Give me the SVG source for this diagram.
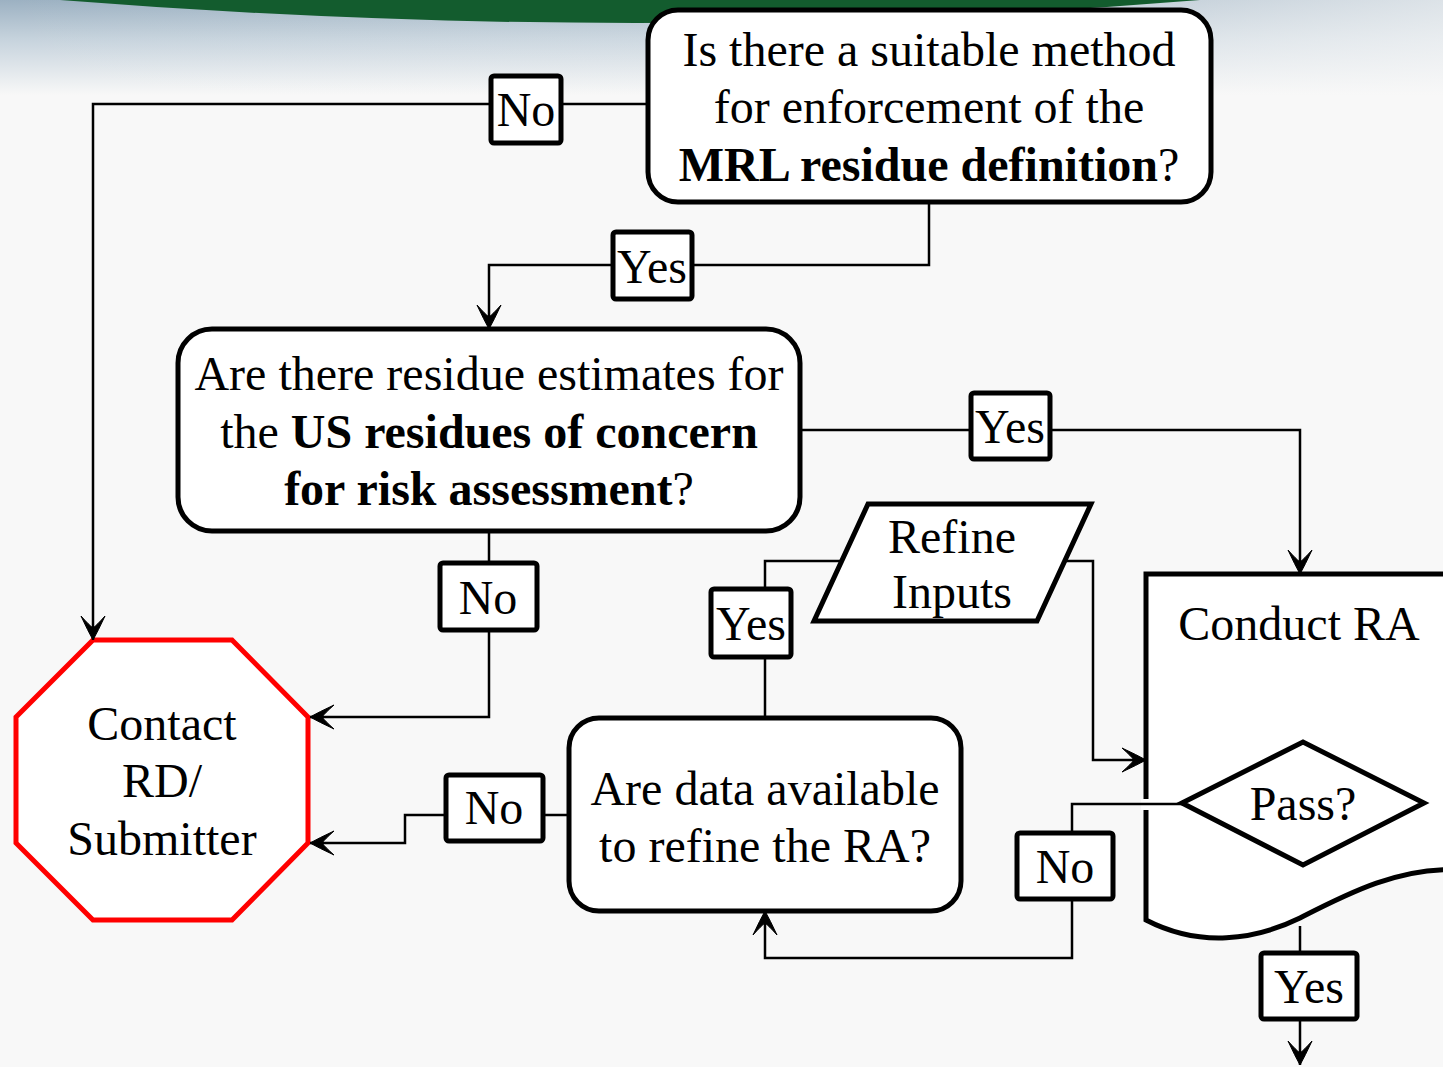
<svg xmlns="http://www.w3.org/2000/svg" width="1443" height="1067" viewBox="0 0 1443 1067">
<defs>
<linearGradient id="sky" x1="0" y1="0" x2="0" y2="1">
<stop offset="0" stop-color="#9cb1c2"/>
<stop offset="0.4" stop-color="#c5d2dc"/>
<stop offset="1" stop-color="#f8f8f8"/>
</linearGradient>
<linearGradient id="fadeR" x1="0" y1="0" x2="1" y2="0">
<stop offset="0" stop-color="#f8f8f8" stop-opacity="0"/>
<stop offset="0.6" stop-color="#f8f8f8" stop-opacity="0.2"/>
<stop offset="1" stop-color="#f8f8f8" stop-opacity="0.7"/>
</linearGradient>
<marker id="arr" viewBox="-26 -14 28 28" markerWidth="28" markerHeight="28" refX="0" refY="0" orient="auto" markerUnits="userSpaceOnUse">
<path d="M0,0 Q-9,-5 -24,-12 Q-15,-4 -12,0 Q-15,4 -24,12 Q-9,5 0,0 Z" fill="#000" stroke="#000" stroke-width="1"/>
</marker>
</defs>
<style>
text{font-family:"Liberation Serif","Times New Roman",serif;font-size:48px;fill:#000;text-anchor:middle}
.node{fill:#fff;stroke:#000;stroke-width:5}
.stop{fill:#fff;stroke:#f00;stroke-width:5}
.conn{fill:none;stroke:#000;stroke-width:2.5}
.arrow{marker-end:url(#arr)}
.lbl{fill:#fff;stroke:#000;stroke-width:5}
.b{font-weight:bold}
</style>
<rect x="0" y="0" width="1443" height="1067" fill="#f8f8f8"/>
<rect x="0" y="0" width="1443" height="95" fill="url(#sky)"/>
<rect x="0" y="0" width="1443" height="95" fill="url(#fadeR)"/>
<path d="M60,0 Q640,46 1200,0 Z" fill="#135c2e"/>

<g id="node-method">
<rect class="node" x="648" y="10" width="563" height="192" rx="30"/>
<text x="929" y="66">Is there a suitable method</text>
<text x="929" y="123">for enforcement of the</text>
<text x="929" y="181"><tspan class="b">MRL residue definition</tspan>?</text>
</g>

<g id="node-estimates">
<rect class="node" x="178" y="329" width="622" height="202" rx="34"/>
<text x="489" y="390">Are there residue estimates for</text>
<text x="489" y="448">the <tspan class="b">US residues of concern</tspan></text>
<text x="489" y="505"><tspan class="b">for risk assessment</tspan>?</text>
</g>

<g id="node-contact">
<polygon class="stop" points="93,640 232,640 308,717 308,843 232,920 93,920 16,843 16,717"/>
<text x="162" y="740">Contact</text>
<text x="162" y="797">RD/</text>
<text x="162" y="855">Submitter</text>
</g>

<g id="node-refine">
<polygon class="node" points="868,504 1091,504 1037,621 814,621"/>
<text x="952" y="553">Refine</text>
<text x="952" y="608">Inputs</text>
</g>

<g id="node-data">
<rect class="node" x="569" y="718" width="392" height="193" rx="30"/>
<text x="765" y="805">Are data available</text>
<text x="765" y="862">to refine the RA?</text>
</g>

<g id="node-conduct">
<path class="node" d="M1146,574 H1460 V870 C1400,866 1345,895 1300,918 C1255,940 1200,948 1146,920 Z"/>
<text x="1299" y="640">Conduct RA</text>
</g>

<g id="node-pass">
<polygon class="node" points="1182,803 1303,742 1424,803 1303,865"/>
<text x="1303" y="820">Pass?</text>
</g>

<g id="connectors">
<polyline class="conn arrow" points="648,104 93,104 93,640"/>
<polyline class="conn arrow" points="929,202 929,265 489,265 489,329"/>
<polyline class="conn arrow" points="800,430 1300,430 1300,574"/>
<polyline class="conn arrow" points="489,531 489,717 310,717"/>
<polyline class="conn arrow" points="569,815 405,815 405,843 310,843"/>
<polyline class="conn" points="765,718 765,561 842,561"/>
<polyline class="conn arrow" points="1065,561 1093,561 1093,760 1146,760"/>
<rect x="1141" y="799" width="12" height="11" fill="#fff"/>
<polyline class="conn arrow" points="1182,804 1072,804 1072,958 765,958 765,911"/>
<polyline class="conn arrow" points="1300,926 1300,1065"/>

<rect class="lbl" x="491" y="76" width="70" height="67" rx="3"/>
<text x="526" y="126">No</text>
<rect class="lbl" x="613" y="232" width="79" height="67" rx="3"/>
<text x="652" y="283">Yes</text>
<rect class="lbl" x="971" y="393" width="79" height="66" rx="3"/>
<text x="1010" y="443">Yes</text>
<rect class="lbl" x="440" y="563" width="97" height="67" rx="3"/>
<text x="488" y="614">No</text>
<rect class="lbl" x="711" y="589" width="80" height="68" rx="3"/>
<text x="751" y="640">Yes</text>
<rect class="lbl" x="446" y="775" width="97" height="66" rx="3"/>
<text x="494" y="824">No</text>
<rect class="lbl" x="1017" y="833" width="96" height="66" rx="3"/>
<text x="1065" y="883">No</text>
<rect class="lbl" x="1261" y="953" width="96" height="66" rx="3"/>
<text x="1309" y="1003">Yes</text>
</g>
</svg>
